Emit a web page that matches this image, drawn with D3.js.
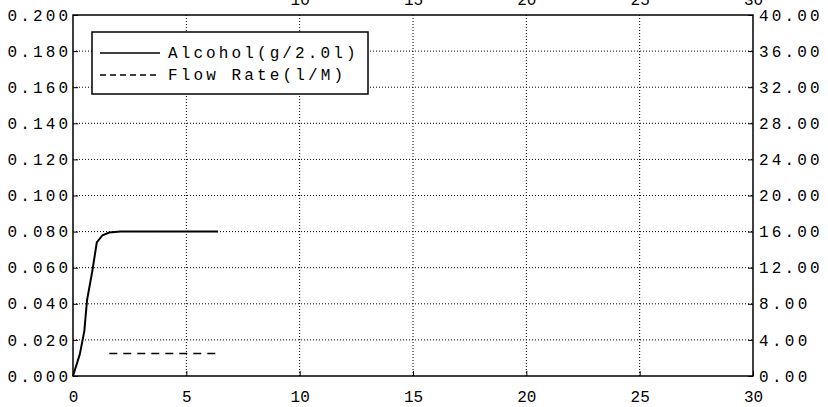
<!DOCTYPE html>
<html>
<head>
<meta charset="utf-8">
<script src="https://cdn.jsdelivr.net/npm/d3@7"></script>
<style>
body { margin: 0; background: #fff; }
text { font-family: "Liberation Mono", "DejaVu Sans Mono", monospace; font-size: 16px; fill: #000; }
</style>
</head>
<body>
<div id="chart"></div>
<script>
// data
var time    = [0, 0.3, 0.5, 0.62, 0.85, 1.05, 1.3, 1.6, 2.1, 3, 4, 5, 6.4];
var alcohol = [0, 0.012, 0.025, 0.042, 0.058, 0.074, 0.078, 0.0795, 0.080, 0.080, 0.080, 0.080, 0.080];
var flowTime = [1.6, 6.4];
var flowRate = [2.5, 2.5];
var xTicks = [0, 5, 10, 15, 20, 25, 30];
var xTopTicks = [10, 15, 20, 25, 30];
var leftTicks = [0, 0.02, 0.04, 0.06, 0.08, 0.10, 0.12, 0.14, 0.16, 0.18, 0.20];
var rightTicks = [0, 4, 8, 12, 16, 20, 24, 28, 32, 36, 40];
var legendNames = ["Alcohol(g/2.0l)", "Flow Rate(l/M)"];

var W = 828, H = 407;
var svg = d3.select("#chart").append("svg").attr("width", W).attr("height", H);

var x = d3.scaleLinear().domain([0, 30]).range([73, 753]);
var yL = d3.scaleLinear().domain([0, 0.2]).range([376, 15]);
var yR = d3.scaleLinear().domain([0, 40]).range([376, 15]);

// grid
svg.append("g").selectAll("line").data(leftTicks.slice(1, -1)).join("line")
    .attr("x1", x(0)).attr("x2", x(30))
    .attr("y1", d => yL(d)).attr("y2", d => yL(d))
    .attr("stroke", "#000").attr("stroke-width", 1).attr("stroke-dasharray", "1,2");
svg.append("g").selectAll("line").data(xTicks.slice(1, -1)).join("line")
    .attr("x1", d => x(d)).attr("x2", d => x(d))
    .attr("y1", yL(0)).attr("y2", yL(0.2))
    .attr("stroke", "#000").attr("stroke-width", 1).attr("stroke-dasharray", "1,2");

// frame
svg.append("rect").attr("x", x(0)).attr("y", yL(0.2))
    .attr("width", x(30) - x(0)).attr("height", yL(0) - yL(0.2))
    .attr("fill", "none").attr("stroke", "#000").attr("stroke-width", 1.5);

// axes
var gl = svg.append("g").attr("transform", "translate(" + x(0) + ",0)")
    .call(d3.axisLeft(yL).tickValues(leftTicks).tickFormat(d3.format(".3f")).tickSize(-5).tickPadding(5));
var gr = svg.append("g").attr("transform", "translate(" + x(30) + ",0)")
    .call(d3.axisRight(yR).tickValues(rightTicks).tickFormat(d3.format(".2f")).tickSize(-5).tickPadding(6));
var gb = svg.append("g").attr("transform", "translate(0," + yL(0) + ")")
    .call(d3.axisBottom(x).tickValues(xTicks).tickFormat(d3.format("d")).tickSize(-5).tickPadding(15));
var gt = svg.append("g").attr("transform", "translate(0," + yL(0.2) + ")")
    .call(d3.axisTop(x).tickValues(xTopTicks).tickFormat(d3.format("d")).tickSize(0).tickPadding(10));
[gl, gr, gb, gt].forEach(function(g) {
    g.select(".domain").remove();
    g.selectAll("text").style("font-family", "Liberation Mono, monospace").style("font-size", "16px");
    g.selectAll("line").attr("stroke", "#000");
});
// widen the labels like the old fixed-pitch plotter font
[gl, gr].forEach(function(g) {
    g.selectAll("text").each(function() {
        var t = d3.select(this);
        t.attr("textLength", t.text().length * 12.1).attr("lengthAdjust", "spacing");
    });
});

// series
var alcLine = d3.line().x(d => x(d[0])).y(d => yL(d[1]));
svg.append("path").datum(d3.zip(time, alcohol)).attr("d", alcLine)
    .attr("fill", "none").attr("stroke", "#000").attr("stroke-width", 2);
var flowLine = d3.line().x(d => x(d[0])).y(d => yR(d[1]));
svg.append("path").datum(d3.zip(flowTime, flowRate)).attr("d", flowLine)
    .attr("fill", "none").attr("stroke", "#000").attr("stroke-width", 1.5).attr("stroke-dasharray", "8,6");

// legend
var lg = svg.append("g").attr("transform", "translate(92,32)");
lg.append("rect").attr("width", 276).attr("height", 62)
    .attr("fill", "#fff").attr("stroke", "#000").attr("stroke-width", 1.5);
legendNames.forEach(function(name, i) {
    var yy = 21 + i * 22;
    lg.append("line").attr("x1", 8).attr("x2", 68).attr("y1", yy).attr("y2", yy)
        .attr("stroke", "#000").attr("stroke-width", 1.5)
        .attr("stroke-dasharray", i === 0 ? null : "6,4");
    lg.append("text").attr("x", 76).attr("y", yy + 5)
        .attr("textLength", name.length * 12.5).attr("lengthAdjust", "spacing").text(name);
});
</script>
</body>
</html>
